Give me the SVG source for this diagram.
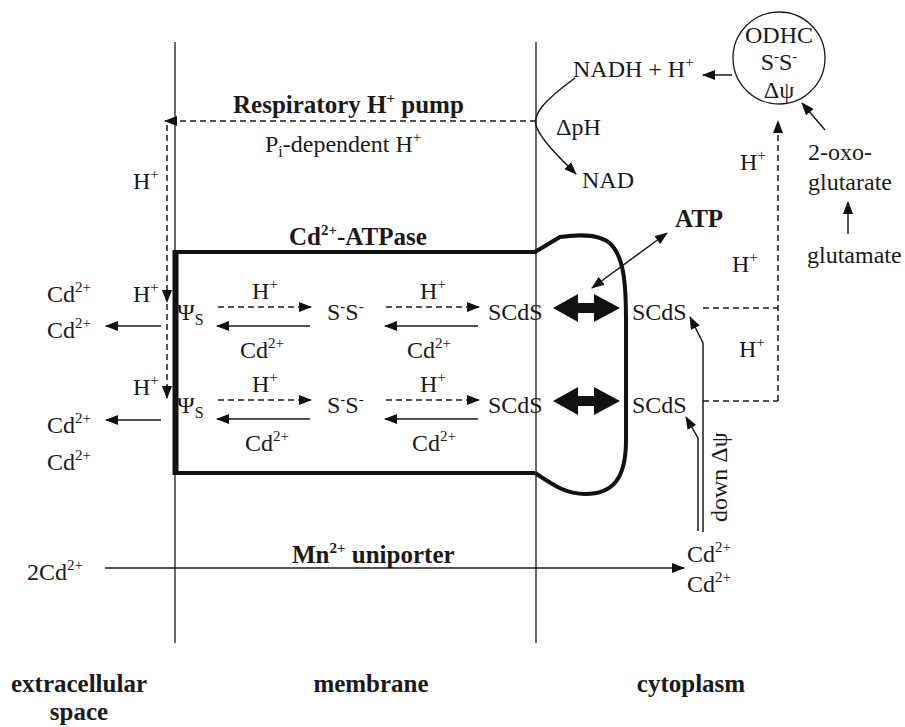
<svg xmlns="http://www.w3.org/2000/svg" width="905" height="727" viewBox="0 0 905 727">
<style>
text{font-family:"Liberation Serif","Times New Roman",serif;font-size:24px;fill:#1a1a1a}
.b{font-weight:bold;font-size:25px}
.sup{font-size:15px}
.sub{font-size:16px}
.ln{fill:none;stroke:#1a1a1a;stroke-width:1.5}
.dash{fill:none;stroke:#1a1a1a;stroke-width:1.5;stroke-dasharray:6,4}
.mem{fill:none;stroke:#1a1a1a;stroke-width:1.3}
.thick{fill:none;stroke:#111;stroke-width:4;stroke-linejoin:miter}
.fill{fill:#111;stroke:none}
</style>
<defs>
<marker id="ah" markerWidth="13" markerHeight="10" refX="12" refY="5" orient="auto-start-reverse" markerUnits="userSpaceOnUse"><path d="M0,0 L13,5 L0,10 z" fill="#111"/></marker>
</defs>
<rect width="905" height="727" fill="#fff"/>

<g id="membrane">
<line class="mem" x1="175" y1="42" x2="175" y2="643"/>
<line class="mem" x1="536" y1="42" x2="536" y2="643"/>
</g>

<g id="atpase">
<path class="thick" d="M535,473 H176 V252 H535 L560,237 C580,234 605,234 614,248 C624,262 626,285 626,320 V440 C626,480 612,494 585,494 C565,494 552,484 535,473"/>
<line x1="175.5" y1="250" x2="175.5" y2="475" stroke="#111" stroke-width="6"/>
<text class="b" x="289" y="245">Cd<tspan class="sup" dy="-10">2+</tspan><tspan dy="10">-ATPase</tspan></text>
</g>

<g id="resp-pump">
<text class="b" x="233" y="113">Respiratory H<tspan class="sup" dy="-10">+</tspan><tspan dy="10"> pump</tspan></text>
<text x="265" y="152">P<tspan class="sub" dy="5">i</tspan><tspan dy="-5">-dependent H</tspan><tspan class="sup" dy="-10">+</tspan></text>
</g>

<g id="odhc">
<circle cx="779" cy="58" r="46" fill="none" stroke="#1a1a1a" stroke-width="1.3"/>
<text x="779" y="43" text-anchor="middle">ODHC</text>
<text x="779" y="70" text-anchor="middle">S<tspan class="sup" dy="-9">-</tspan><tspan dy="9">S</tspan><tspan class="sup" dy="-9">-</tspan></text>
<text x="779" y="98" text-anchor="middle">Δψ</text>
</g>

<g id="nadh"><text x="573" y="77">NADH + H<tspan class="sup" dy="-10">+</tspan></text></g>
<g id="dph"><text x="556" y="135">ΔpH</text></g>
<g id="nad"><text x="582" y="188">NAD</text></g>
<g id="atp"><text class="b" x="675" y="227">ATP</text></g>
<g id="oxo"><text x="808" y="160">2-oxo-</text><text x="808" y="190">glutarate</text></g>
<g id="glutamate"><text x="807" y="263">glutamate</text></g>
<g id="h-labels-right">
<text x="740" y="170">H<tspan class="sup" dy="-10">+</tspan></text>
<text x="732" y="272">H<tspan class="sup" dy="-10">+</tspan></text>
<text x="739" y="357">H<tspan class="sup" dy="-10">+</tspan></text>
</g>
<g id="h-left"><text x="133" y="189">H<tspan class="sup" dy="-10">+</tspan></text></g>

<g id="row1">
<text x="47" y="302">Cd<tspan class="sup" dy="-10">2+</tspan></text>
<text x="47" y="338">Cd<tspan class="sup" dy="-10">2+</tspan></text>
<text x="133" y="302">H<tspan class="sup" dy="-10">+</tspan></text>
<text x="177" y="320">Ψ<tspan class="sub" dy="5">S</tspan></text>
<text x="252" y="299">H<tspan class="sup" dy="-10">+</tspan></text>
<text x="240" y="358">Cd<tspan class="sup" dy="-10">2+</tspan></text>
<text x="327" y="320">S<tspan class="sup" dy="-9">-</tspan><tspan dy="9">S</tspan><tspan class="sup" dy="-9">-</tspan></text>
<text x="420" y="299">H<tspan class="sup" dy="-10">+</tspan></text>
<text x="407" y="358">Cd<tspan class="sup" dy="-10">2+</tspan></text>
<text x="488" y="320">SCdS</text>
<text x="632" y="320">SCdS</text>
</g>

<g id="row2">
<text x="47" y="433">Cd<tspan class="sup" dy="-10">2+</tspan></text>
<text x="47" y="470">Cd<tspan class="sup" dy="-10">2+</tspan></text>
<text x="133" y="395">H<tspan class="sup" dy="-10">+</tspan></text>
<text x="177" y="413">Ψ<tspan class="sub" dy="5">S</tspan></text>
<text x="252" y="392">H<tspan class="sup" dy="-10">+</tspan></text>
<text x="245" y="451">Cd<tspan class="sup" dy="-10">2+</tspan></text>
<text x="327" y="413">S<tspan class="sup" dy="-9">-</tspan><tspan dy="9">S</tspan><tspan class="sup" dy="-9">-</tspan></text>
<text x="420" y="392">H<tspan class="sup" dy="-10">+</tspan></text>
<text x="412" y="451">Cd<tspan class="sup" dy="-10">2+</tspan></text>
<text x="488" y="413">SCdS</text>
<text x="632" y="413">SCdS</text>
</g>

<g id="uniporter">
<text x="27" y="580">2Cd<tspan class="sup" dy="-10">2+</tspan></text>
<text class="b" x="292" y="563">Mn<tspan class="sup" dy="-10">2+</tspan><tspan dy="10"> uniporter</tspan></text>
<text x="687" y="562">Cd<tspan class="sup" dy="-10">2+</tspan></text>
<text x="687" y="592">Cd<tspan class="sup" dy="-10">2+</tspan></text>
</g>

<g id="down-dpsi"><text transform="translate(727,522) rotate(-90)">down  Δψ</text></g>

<g id="regions">
<text class="b" x="79" y="692" text-anchor="middle">extracellular</text>
<text class="b" x="79" y="720" text-anchor="middle">space</text>
<text class="b" x="371" y="692" text-anchor="middle">membrane</text>
<text class="b" x="691" y="692" text-anchor="middle">cytoplasm</text>
</g>

<g id="connectors">
<path class="dash" d="M536,121 H165" marker-end="url(#ah)"/>
<path class="dash" d="M167,125 V302" marker-end="url(#ah)"/>
<path class="dash" d="M167,304 V398" marker-end="url(#ah)"/>
<path class="ln" d="M575,78 C548,98 530,114 537,128 C543,142 560,158 576,174" marker-end="url(#ah)"/>
<path class="ln" d="M732,75 H703" marker-end="url(#ah)" stroke-width="2"/>
<path class="ln" d="M825,130 L802,103" marker-end="url(#ah)"/>
<path class="ln" d="M848,234 V202" marker-end="url(#ah)"/>
<path class="ln" d="M592,288 L667,233" marker-start="url(#ah)" marker-end="url(#ah)"/>
<path class="dash" d="M778,401 V121" marker-end="url(#ah)"/>
<path class="dash" d="M703,308 H778"/>
<path class="dash" d="M703,401 H778"/>
<path class="ln" d="M703,532 V343 L690,317" marker-end="url(#ah)"/>
<path class="ln" d="M698,531 V438 L686,417" marker-end="url(#ah)"/>
<path class="ln" d="M105,568 H684" marker-end="url(#ah)"/>
<path class="ln" d="M161,326 H106" marker-end="url(#ah)"/>
<path class="ln" d="M161,420 H106" marker-end="url(#ah)"/>
<path class="dash" d="M218,307 H311" marker-end="url(#ah)"/>
<path class="ln" d="M310,326 H217" marker-end="url(#ah)"/>
<path class="dash" d="M386,307 H479" marker-end="url(#ah)"/>
<path class="ln" d="M478,326 H385" marker-end="url(#ah)"/>
<path class="dash" d="M218,400 H311" marker-end="url(#ah)"/>
<path class="ln" d="M310,419 H217" marker-end="url(#ah)"/>
<path class="dash" d="M386,400 H479" marker-end="url(#ah)"/>
<path class="ln" d="M478,419 H385" marker-end="url(#ah)"/>
<polygon class="fill" points="553,308 578,294 578,303 594,303 594,294 620,308 594,322 594,313 578,313 578,322"/>
<polygon class="fill" points="553,401 578,387 578,396 594,396 594,387 620,401 594,415 594,406 578,406 578,415"/>
</g>
</svg>
